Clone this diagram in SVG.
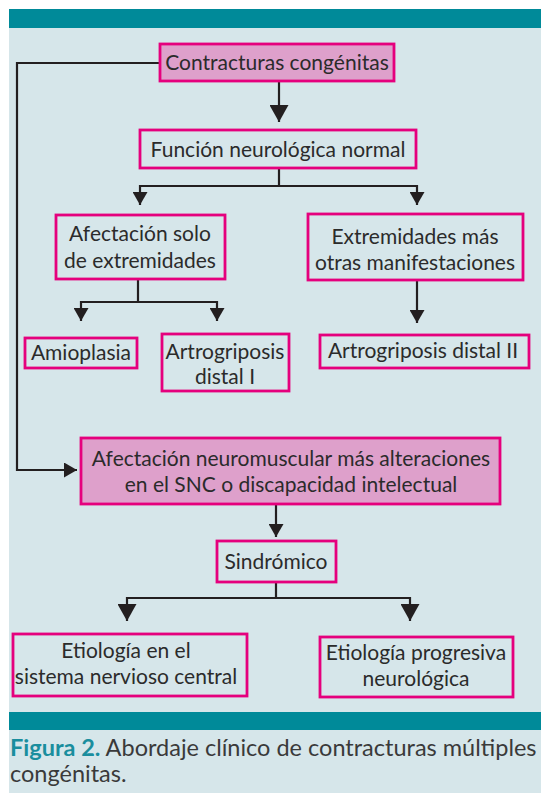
<svg xmlns="http://www.w3.org/2000/svg" width="541" height="793" viewBox="0 0 541 793">
<defs>
<style>
.bx{fill:#d6e6ea;stroke:#e5007d;stroke-width:2.8}
.bp{fill:#dea0cb;stroke:#e5007d;stroke-width:2.8}
.t{font-family:Lato,"Open Sans",sans-serif;font-size:21px;fill:#2b2b2b;text-anchor:middle}
.c{fill:none;stroke:#231f20;stroke-width:2.2}
.cap{font-family:Lato,"Open Sans",sans-serif;font-size:23.5px;fill:#3a3a3a}
</style>
<marker id="ab" viewBox="0 0 10 10" refX="10" refY="5" markerWidth="17" markerHeight="19" markerUnits="userSpaceOnUse" preserveAspectRatio="none" orient="auto">
<path d="M0,0 L10,5 L0,10 Z" fill="#231f20"/>
</marker>
<marker id="as" viewBox="0 0 10 10" refX="10" refY="5" markerWidth="13" markerHeight="15" markerUnits="userSpaceOnUse" preserveAspectRatio="none" orient="auto">
<path d="M0,0 L10,5 L0,10 Z" fill="#231f20"/>
</marker>
</defs>
<rect x="9" y="9" width="532" height="784" fill="#d6e6ea"/>
<rect x="9" y="9" width="532" height="19" fill="#008a99"/>
<rect x="9" y="712" width="532" height="18" fill="#008a99"/>
<g id="connectors">
<path class="c" d="M159,63 H17 V470 H77" marker-end="url(#as)"/>
<path class="c" d="M279,81 V122" marker-end="url(#ab)"/>
<path class="c" d="M279,168 V186 M139,186 H418"/>
<path class="c" d="M140,185 V205" marker-end="url(#as)"/>
<path class="c" d="M417,185 V205" marker-end="url(#as)"/>
<path class="c" d="M138,279 V302 M80,302 H218"/>
<path class="c" d="M81,301 V321" marker-end="url(#as)"/>
<path class="c" d="M217,301 V321" marker-end="url(#as)"/>
<path class="c" d="M417,280 V323" marker-end="url(#as)"/>
<path class="c" d="M276,504 V537" marker-end="url(#as)"/>
<path class="c" d="M276,582 V598 M126,598 H411"/>
<path class="c" d="M127,597 V621" marker-end="url(#ab)"/>
<path class="c" d="M410,597 V621" marker-end="url(#ab)"/>
</g>
<g id="n1"><rect class="bp" x="160" y="44" width="234" height="37"/><text class="t" x="277" y="70">Contracturas congénitas</text></g>
<g id="n2"><rect class="bx" x="140" y="130" width="276" height="38"/><text class="t" x="278" y="157">Función neurológica normal</text></g>
<g id="n3"><rect class="bx" x="56" y="215" width="169" height="64"/><text class="t" x="140" y="241">Afectación solo</text><text class="t" x="140" y="268">de extremidades</text></g>
<g id="n4"><rect class="bx" x="308" y="214" width="215" height="66"/><text class="t" x="415" y="244">Extremidades más</text><text class="t" x="415" y="270">otras manifestaciones</text></g>
<g id="n5"><rect class="bx" x="25" y="338" width="112" height="30"/><text class="t" x="81" y="360">Amioplasia</text></g>
<g id="n6"><rect class="bx" x="162" y="334" width="127" height="57"/><text class="t" x="225" y="359">Artrogriposis</text><text class="t" x="225" y="384">distal I</text></g>
<g id="n7"><rect class="bx" x="320" y="335" width="209" height="33"/><text class="t" x="423" y="358">Artrogriposis distal II</text></g>
<g id="n8"><rect class="bp" x="81" y="438" width="419" height="66"/><text class="t" x="291" y="466">Afectación neuromuscular más alteraciones</text><text class="t" x="291" y="492">en el SNC o discapacidad intelectual</text></g>
<g id="n9"><rect class="bx" x="217" y="541" width="119" height="41"/><text class="t" x="276" y="569">Sindrómico</text></g>
<g id="n10"><rect class="bx" x="13" y="634" width="234" height="62"/><text class="t" x="126" y="658">Etiología en el</text><text class="t" x="126" y="684">sistema nervioso central</text></g>
<g id="n11"><rect class="bx" x="320" y="637" width="193" height="60"/><text class="t" x="416" y="660">Etiología progresiva</text><text class="t" x="416" y="686">neurológica</text></g>
<text class="cap" x="10" y="756"><tspan font-weight="bold" fill="#1a8e9e">Figura 2.</tspan> Abordaje clínico de contracturas múltiples</text>
<text class="cap" x="10" y="782">congénitas.</text>
</svg>
